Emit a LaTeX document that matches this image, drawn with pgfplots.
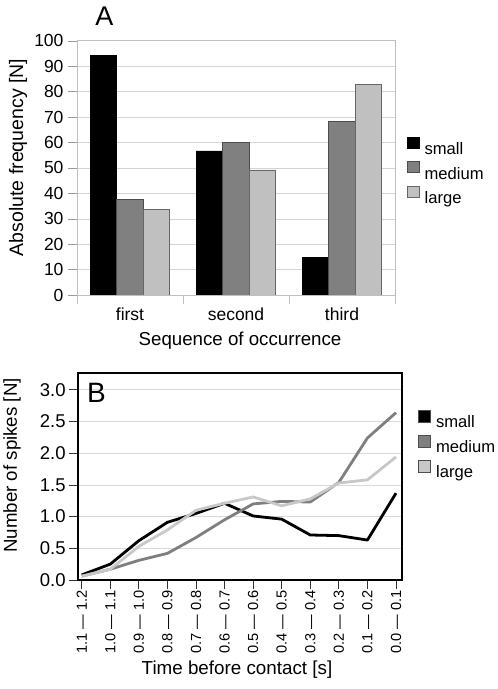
\documentclass[border=0pt]{standalone}
\usepackage{fontspec}
\setmainfont{Liberation Sans}
\usepackage{pgfplots}
\pgfplotsset{compat=1.18}
\newcommand{\fs}[1]{\fontsize{#1}{#1}\selectfont}
\definecolor{cmed}{HTML}{808080}
\definecolor{clar}{HTML}{C0C0C0}
\definecolor{lmed}{HTML}{7F7F7F}
\definecolor{llar}{HTML}{C8C8C8}
\begin{document}
\begin{tikzpicture}[x=1pt,y=1pt]
\path[use as bounding box] (0,0) rectangle (498,689);
% ---------------- Panel A ----------------
\begin{axis}[
  at={(77pt,394pt)}, anchor=south west,
  scale only axis, width=318pt, height=254.3pt,
  xmin=-0.5, xmax=2.5, ymin=0, ymax=100,
  ytick={0,10,20,30,40,50,60,70,80,90,100},
  yticklabels={0,10,20,30,40,50,60,70,80,90,100},
  xtick={0,1,2}, xticklabels={first,second,third},
  tick pos=left,
  axis line style={draw=black!25},
  ymajorgrids, grid style={draw=black!17},
  tick align=outside, major tick length=9pt,
  ytick style={draw=black!40},
  xtick style={draw=none},
  extra x ticks={-0.5,0.5,1.5,2.5}, extra x tick labels={},
  extra x tick style={xtick style={draw=black!25}},
  yticklabel style={font=\fs{17.5}, xshift=-1pt},
  xticklabel style={font=\fs{17.5}},
  ybar, bar width=26.5pt,
  legend style={at={(1.0377,0.6225)}, anchor=north west, draw=none, fill=none,
    inner sep=0pt, outer sep=0pt, row sep=0pt,
    nodes={inner sep=0pt, text height=15pt, text depth=6.8pt, font=\fs{16.6}},
    /tikz/every odd column/.append style={column sep=5pt}},
  legend cell align=left,
  legend image code/.code={\draw[#1] (0pt,2.2pt) rectangle (12pt,13.4pt);},
]
\addplot[fill=black, draw=black, line width=0.6pt, bar shift=-26.5pt] coordinates {(0,94.2) (1,56.7) (2,14.8)};
\addplot[fill=cmed, draw=black!70, line width=0.6pt, bar shift=0pt] coordinates {(0,37.6) (1,60.0) (2,68.3)};
\addplot[fill=clar, draw=black!60, line width=0.6pt, bar shift=26.5pt] coordinates {(0,33.8) (1,49.2) (2,82.8)};
\legend{small,medium,large}
\end{axis}
\node[font=\fs{27}] at (104.5,672.5) {A};
\node[font=\fs{19.5}, rotate=90] at (18,531.5) {Absolute frequency [N]};
\node[font=\fs{18.7}, anchor=base] at (240,343) {Sequence of occurrence};
% ---------------- Panel B ----------------
\begin{axis}[
  at={(77.7pt,109pt)}, anchor=south west,
  scale only axis, width=324.3pt, height=207.3pt,
  xmin=-0.14, xmax=11.21, ymin=0, ymax=3.27,
  xtick={0,1,2,3,4,5,6,7,8,9,10,11},
  xticklabels={1.1 — 1.2,1.0 — 1.1,0.9 — 1.0,0.8 — 0.9,0.7 — 0.8,0.6 — 0.7,0.5 — 0.6,0.4 — 0.5,0.3 — 0.4,0.2 — 0.3,0.1 — 0.2,0.0 — 0.1},
  ytick={0,0.5,1,1.5,2,2.5,3},
  yticklabels={0.0,0.5,1.0,1.5,2.0,2.5,3.0},
  tick pos=left,
  axis line style={draw=black, line width=1.8pt},
  ymajorgrids, grid style={draw=black!15, line width=0.8pt},
  tick align=outside, major tick length=8.5pt,
  tick style={draw=black!80, line width=0.8pt},
  yticklabel style={font=\fs{18.5}},
  xticklabel style={font=\fs{14.6}, rotate=90, anchor=east, xshift=2pt},
  legend style={at={(1.0494,0.820)}, anchor=north west, draw=none, fill=none,
    inner sep=0pt, outer sep=0pt, row sep=0pt,
    nodes={inner sep=0pt, text height=15pt, text depth=8pt, font=\fs{16.6}},
    /tikz/every odd column/.append style={column sep=6pt}},
  legend cell align=left,
  legend image code/.code={\draw[draw=black!70, line width=0.6pt, fill=#1] (0pt,1.8pt) rectangle (11.5pt,13.3pt);},
]
\addplot[black, line width=2.8pt, line join=round, forget plot] coordinates {
(0,0.08) (1,0.25) (2,0.62) (3,0.91) (4,1.05) (5,1.21) (6,1.01) (7,0.96) (8,0.71) (9,0.70) (10,0.63) (11,1.37)};
\addplot[lmed, line width=2.8pt, line join=round, forget plot] coordinates {
(0,0.06) (1,0.17) (2,0.31) (3,0.42) (4,0.67) (5,0.95) (6,1.20) (7,1.24) (8,1.23) (9,1.54) (10,2.24) (11,2.64)};
\addplot[llar, line width=2.8pt, line join=round, forget plot] coordinates {
(0,0.06) (1,0.17) (2,0.53) (3,0.79) (4,1.10) (5,1.21) (6,1.31) (7,1.17) (8,1.28) (9,1.53) (10,1.58) (11,1.94)};
\addlegendimage{black}
\addlegendentry{small}
\addlegendimage{lmed}
\addlegendentry{medium}
\addlegendimage{llar}
\addlegendentry{large}
\end{axis}
\node[font=\fs{28}] at (96.5,296) {B};
\node[font=\fs{18.7}, rotate=90] at (12,223.5) {Number of spikes [N]};
\node[font=\fs{18.8}, anchor=base] at (237,14) {Time before contact [s]};
\end{tikzpicture}
\end{document}
